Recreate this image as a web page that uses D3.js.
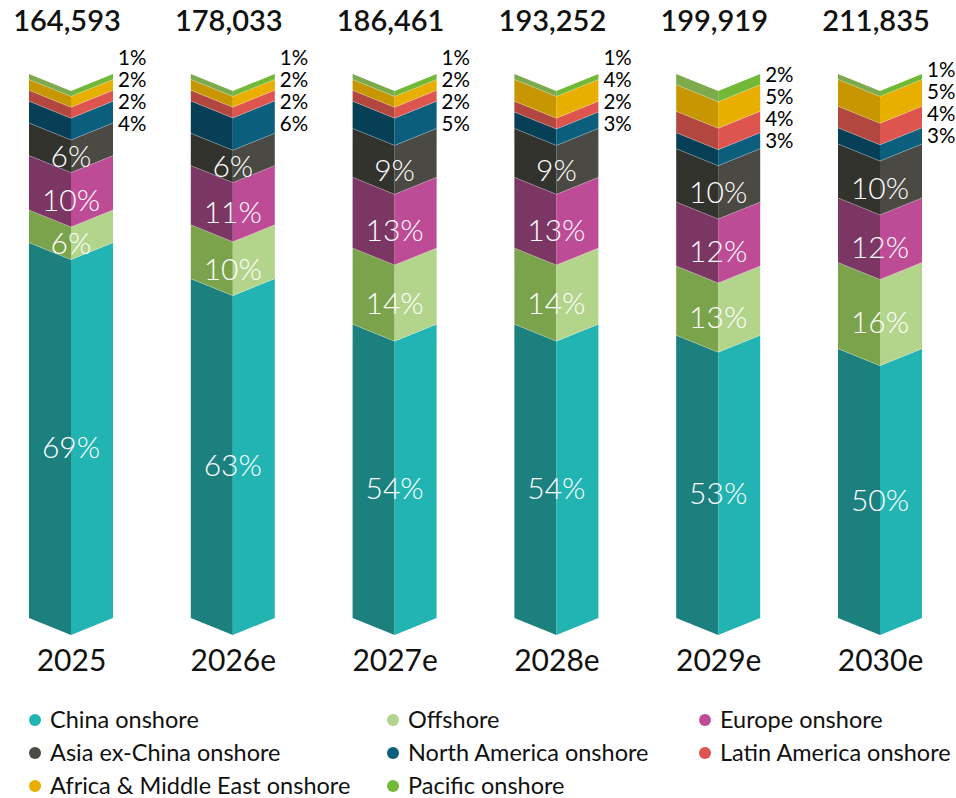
<!DOCTYPE html>
<html>
<head>
<meta charset="utf-8">
<script src="https://cdn.jsdelivr.net/npm/d3@7/dist/d3.min.js"></script>
<style>
  html, body { margin: 0; padding: 0; background: #ffffff; }
  svg { display: block; font-family: Lato, "Noto Sans", sans-serif; }
</style>
</head>
<body>
<svg id="chart" width="956" height="798"></svg>
<script>
// Installations by region, share of each year's total (%)
const years = ["2025", "2026e", "2027e", "2028e", "2029e", "2030e"];
const totals = [164593, 178033, 186461, 193252, 199919, 211835];

const chinaOnshore        = [69, 63, 54, 54, 53, 50];
const offshore            = [6, 10, 14, 14, 13, 16];
const europeOnshore       = [10, 11, 13, 13, 12, 12];
const asiaExChinaOnshore  = [6, 6, 9, 9, 10, 10];
const northAmericaOnshore = [4, 6, 5, 3, 3, 3];
const latinAmericaOnshore = [2, 2, 2, 2, 4, 4];
const africaMEOnshore     = [2, 2, 2, 4, 5, 5];
const pacificOnshore      = [1, 1, 1, 1, 2, 1];

// Stack order, bottom to top
const seriesNames = [
  "China onshore", "Offshore", "Europe onshore", "Asia ex-China onshore",
  "North America onshore", "Latin America onshore",
  "Africa & Middle East onshore", "Pacific onshore"
];
const seriesValues = [
  chinaOnshore, offshore, europeOnshore, asiaExChinaOnshore,
  northAmericaOnshore, latinAmericaOnshore, africaMEOnshore, pacificOnshore
];

// Lit (right) face and shaded (left) face for each series
const lightColors = ["#22b3b3", "#b3d48b", "#be4b96", "#4a4943", "#0b5f7d", "#de5550", "#e8ae00", "#71b936"];
const darkColors  = ["#1b807e", "#7ba34c", "#7c3663", "#33332e", "#063f56", "#b24740", "#c79600", "#7daa4c"];

// Series labelled inside the column vs. beside it
const insideLabelled = new Set(["China onshore", "Offshore", "Europe onshore", "Asia ex-China onshore"]);

// Legend grid order (row-major, three columns)
const legendOrder = [
  "China onshore", "Offshore", "Europe onshore",
  "Asia ex-China onshore", "North America onshore", "Latin America onshore",
  "Africa & Middle East onshore", "Pacific onshore"
];

const table = years.map((y, i) => {
  const row = { year: y, total: totals[i] };
  seriesNames.forEach((s, k) => { row[s] = seriesValues[k][i]; });
  return row;
});

const stacked = d3.stack()
  .keys(seriesNames)
  .offset(d3.stackOffsetExpand)(table);

const svg = d3.select("#chart");

const x = d3.scalePoint().domain(years).range([71, 880]);
const y = d3.scaleLinear().domain([0, 1]).range([618, 74]);
const halfW = 42;   // half the column width
const vDepth = 17;  // drop of the front edge below the side corners

const color = d3.scaleOrdinal().domain(seriesNames).range(lightColors);
const shade = d3.scaleOrdinal().domain(seriesNames).range(darkColors);

const line = d3.line();

function leftFace(cx, y0, y1) {
  return line([[cx - halfW, y(y1)], [cx, y(y1) + vDepth], [cx, y(y0) + vDepth], [cx - halfW, y(y0)]]) + "Z";
}
function rightFace(cx, y0, y1) {
  return line([[cx, y(y1) + vDepth], [cx + halfW, y(y1)], [cx + halfW, y(y0)], [cx, y(y0) + vDepth]]) + "Z";
}

const layers = svg.append("g").attr("class", "columns")
  .selectAll("g.layer")
  .data(stacked)
  .join("g")
  .attr("class", "layer");

layers.selectAll("path.left")
  .data(d => d.map(p => ({ key: d.key, p })))
  .join("path")
  .attr("class", "left")
  .attr("d", d => leftFace(x(d.p.data.year), d.p[0], d.p[1]))
  .attr("fill", d => shade(d.key));

layers.selectAll("path.right")
  .data(d => d.map(p => ({ key: d.key, p })))
  .join("path")
  .attr("class", "right")
  .attr("d", d => rightFace(x(d.p.data.year), d.p[0], d.p[1]))
  .attr("fill", d => color(d.key));

// Faint seams between stacked segments
layers.filter((d, i) => i > 0)
  .selectAll("path.seam")
  .data(d => d.map(p => p))
  .join("path")
  .attr("class", "seam")
  .attr("d", p => {
    const cx = x(p.data.year);
    return line([[cx - halfW, y(p[0])], [cx, y(p[0]) + vDepth], [cx + halfW, y(p[0])]]);
  })
  .attr("fill", "none")
  .attr("stroke", "rgba(255,255,255,0.35)")
  .attr("stroke-width", 0.7);

// White percentage labels inside the larger segments
const inside = [];
stacked.forEach(layer => {
  if (!insideLabelled.has(layer.key)) return;
  layer.forEach(p => {
    inside.push({
      cx: x(p.data.year),
      cy: (y(p[0]) + y(p[1])) / 2 + vDepth,
      text: p.data[layer.key] + "%"
    });
  });
});
svg.append("g").attr("class", "inside-labels")
  .selectAll("text")
  .data(inside)
  .join("text")
  .attr("x", d => d.cx)
  .attr("y", d => d.cy)
  .attr("dy", "0.36em")
  .attr("text-anchor", "middle")
  .attr("fill", "#ffffff")
  .attr("font-size", 30)
  .attr("font-weight", 300)
  .text(d => d.text);

// Side labels for the thin top segments, nudged apart to avoid overlap
const sideKeys = seriesNames.filter(s => !insideLabelled.has(s));
const sideLabels = [];
years.forEach((yr, i) => {
  const items = stacked
    .filter(layer => sideKeys.includes(layer.key))
    .map(layer => {
      const p = layer[i];
      return { cx: x(yr), mid: (y(p[0]) + y(p[1])) / 2, text: p.data[layer.key] + "%" };
    });
  // items run bottom to top; enforce spacing going upward
  const gap = 22;
  let prev = Infinity;
  items.forEach(it => { it.pos = Math.min(it.mid, prev - gap); prev = it.pos; });
  // keep the top label clear of the total figure
  const minTop = 58;
  const top = items[items.length - 1];
  if (top.pos < minTop) {
    let next = minTop;
    for (let k = items.length - 1; k >= 0; k--) {
      items[k].pos = Math.max(items[k].pos, next);
      next = items[k].pos + gap;
    }
  }
  sideLabels.push(...items);
});
svg.append("g").attr("class", "side-labels")
  .selectAll("text")
  .data(sideLabels)
  .join("text")
  .attr("x", d => d.cx + halfW + 5)
  .attr("y", d => d.pos)
  .attr("dy", "0.36em")
  .attr("fill", "#000000")
  .attr("font-size", 20.5)
  .attr("font-weight", 400)
  .text(d => d.text);

// Totals above each column
const fmt = d3.format(",");
svg.append("g").attr("class", "totals")
  .selectAll("text")
  .data(table)
  .join("text")
  .attr("x", d => x(d.year) - 4)
  .attr("y", 31)
  .attr("text-anchor", "middle")
  .attr("fill", "#111111")
  .attr("font-size", 29)
  .attr("font-weight", 600)
  .text(d => fmt(d.total));

// Year axis below the columns
const xAxis = svg.append("g")
  .attr("class", "x-axis")
  .attr("transform", "translate(0,650)")
  .call(d3.axisBottom(x).tickSize(0).tickPadding(0));
xAxis.select(".domain").remove();
xAxis.selectAll("text")
  .attr("font-family", "Lato, 'Noto Sans', sans-serif")
  .attr("font-size", 30)
  .attr("font-weight", 400)
  .attr("fill", "#111111")
  .attr("dy", "0.71em");

// Legend
const legendCols = [35, 393, 705];
const legendRows = [720, 753, 786];
const legend = svg.append("g").attr("class", "legend")
  .selectAll("g")
  .data(legendOrder)
  .join("g")
  .attr("transform", (d, i) => `translate(${legendCols[i % 3]},${legendRows[Math.floor(i / 3)]})`);
legend.append("circle")
  .attr("r", 6)
  .attr("fill", d => color(d));
legend.append("text")
  .attr("x", 15)
  .attr("dy", "0.36em")
  .attr("font-size", 23.5)
  .attr("fill", "#111111")
  .text(d => d);
</script>
</body>
</html>
